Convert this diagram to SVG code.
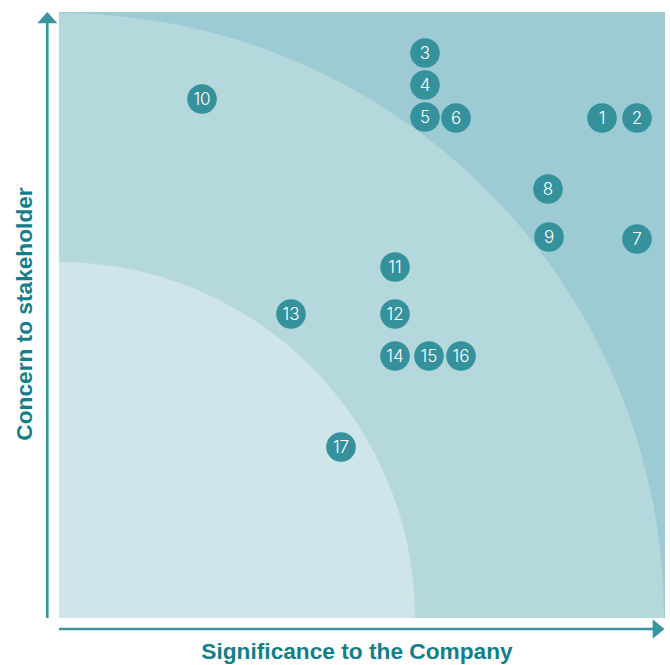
<svg xmlns="http://www.w3.org/2000/svg" width="670" height="665" viewBox="0 0 670 665">
<style>
.node circle{fill:#35919c}
.node text{fill:#ffffff;font-family:Inter,Lato,"Liberation Sans",sans-serif;font-weight:300;font-size:17px;text-anchor:middle}
.axis{stroke:#3a95a0;stroke-width:2.6;fill:none}
.head{fill:#3a95a0}
.lbl{fill:#137e89;font-family:"Liberation Sans",Arial,sans-serif;font-weight:bold;font-size:22.7px;text-anchor:middle}
</style>
<g id="background">
<rect x="59" y="12" width="606" height="606" fill="#9dcbd3"/>
<path d="M59,618 L59,13 A605,605 0 0 1 664,618 Z" fill="#b4d8dc"/>
<path d="M59,618 L59,262 A356,356 0 0 1 415,618 Z" fill="#cfe5e9"/>
</g>
<g id="connectors">
<line class="axis" x1="47.3" y1="618" x2="47.3" y2="22"/>
<polygon class="head" points="47.3,12 57.3,23.3 37.3,23.3"/>
<line class="axis" x1="59" y1="629" x2="654" y2="629"/>
<polygon class="head" points="664.5,629 652.7,619.3 652.7,638.7"/>
</g>
<g id="axis-y-label"><text class="lbl" transform="translate(32,314) rotate(-90)">Concern to stakeholder</text></g>
<g id="axis-x-label"><text class="lbl" x="357" y="659">Significance to the Company</text></g>
<g id="n1" class="node"><circle cx="602" cy="118" r="14.8"/><text x="602" y="124">1</text></g>
<g id="n2" class="node"><circle cx="637" cy="118" r="14.8"/><text x="637" y="124">2</text></g>
<g id="n3" class="node"><circle cx="425" cy="53" r="14.8"/><text x="425" y="59">3</text></g>
<g id="n4" class="node"><circle cx="425" cy="85" r="14.8"/><text x="425" y="91">4</text></g>
<g id="n5" class="node"><circle cx="425" cy="117" r="14.8"/><text x="425" y="123">5</text></g>
<g id="n6" class="node"><circle cx="456" cy="118" r="14.8"/><text x="456" y="124">6</text></g>
<g id="n7" class="node"><circle cx="637" cy="239" r="14.8"/><text x="637" y="245">7</text></g>
<g id="n8" class="node"><circle cx="548" cy="189" r="14.8"/><text x="548" y="195">8</text></g>
<g id="n9" class="node"><circle cx="549" cy="237" r="14.8"/><text x="549" y="243">9</text></g>
<g id="n10" class="node"><circle cx="202" cy="99" r="14.8"/><text x="202" y="105">10</text></g>
<g id="n11" class="node"><circle cx="395" cy="267" r="14.8"/><text x="395" y="273">11</text></g>
<g id="n12" class="node"><circle cx="395" cy="314" r="14.8"/><text x="395" y="320">12</text></g>
<g id="n13" class="node"><circle cx="291" cy="314" r="14.8"/><text x="291" y="320">13</text></g>
<g id="n14" class="node"><circle cx="395" cy="356" r="14.8"/><text x="395" y="362">14</text></g>
<g id="n15" class="node"><circle cx="429" cy="356" r="14.8"/><text x="429" y="362">15</text></g>
<g id="n16" class="node"><circle cx="461" cy="356" r="14.8"/><text x="461" y="362">16</text></g>
<g id="n17" class="node"><circle cx="341" cy="447" r="14.8"/><text x="341" y="453">17</text></g>
</svg>
